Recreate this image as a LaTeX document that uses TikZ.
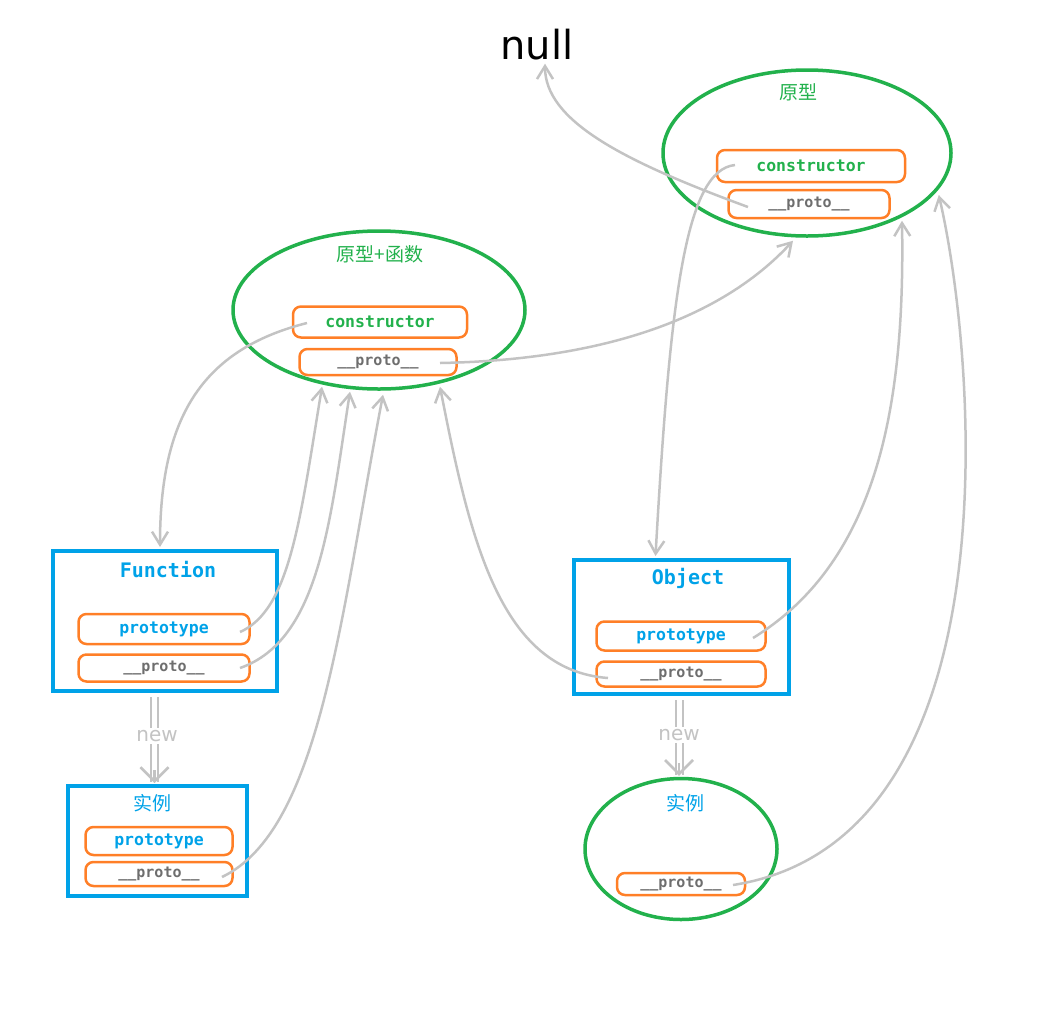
\documentclass[tikz,border=0pt]{standalone}
\usepackage{fontspec}
\usetikzlibrary{shapes.geometric,arrows.meta,calc}
\newfontfamily\cjkf{Noto Sans CJK SC}
\newfontfamily\codef{DejaVu Sans Mono}
\newfontfamily\sansf{DejaVu Sans}
\definecolor{pgreen}{HTML}{22B14C}
\definecolor{pblue}{HTML}{00A2E8}
\definecolor{porange}{HTML}{FF7F27}
\definecolor{pgray}{HTML}{C3C3C3}
\definecolor{pdark}{HTML}{6E6E6E}
\begin{document}
\begin{tikzpicture}[x=1pt,y=-1pt,
  gell/.style={draw=pgreen,line width=3.5pt,ellipse,inner sep=0pt},
  bbox/.style={draw=pblue,line width=4pt,rectangle,inner sep=0pt},
  slot/.style={draw=porange,line width=2.5pt,rounded corners=8pt,inner sep=0pt,font=\codef\bfseries\fontsize{16.5}{18}\selectfont},
  pslot/.style={slot,text=pdark,font=\codef\bfseries\fontsize{15}{17}\selectfont},
  cjklbl/.style={font=\cjkf\fontsize{19}{22}\selectfont,inner sep=0pt},
  codelbl/.style={font=\codef\bfseries\fontsize{20}{22}\selectfont,text=pblue,inner sep=0pt},
  link/.style={draw=pgray,line width=2.5pt,-{Straight Barb[length=13pt,width=16pt]}},
  newln/.style={draw=pgray,line width=2.5pt},
  newtip/.style={draw=pgray,line width=2.5pt,-{Straight Barb[length=14pt,width=28pt]}},
  newlbl/.style={font=\sansf\fontsize{20}{22}\selectfont,text=pgray,fill=white,inner sep=2pt}
]
\useasboundingbox (0,0) rectangle (1054,1034);

% null
\node[font=\sansf\fontsize{40}{44}\selectfont,inner sep=0pt] (null) at (537,45) {null};

% top prototype ellipse
\node[gell,minimum width=288pt,minimum height=166pt] (te) at (807,153) {};
\node[cjklbl,text=pgreen] (tel) at (798,92) {原型};
\node[slot,text=pgreen,minimum width=188pt,minimum height=32pt] (tc) at (811,166) {constructor};
\node[pslot,minimum width=161pt,minimum height=28pt] (tp) at (809,204) {\_\_proto\_\_};

% middle ellipse
\node[gell,minimum width=292pt,minimum height=158pt] (me) at (379,310) {};
\node[cjklbl,text=pgreen] (mel) at (380,254) {原型+函数};
\node[slot,text=pgreen,minimum width=174pt,minimum height=31pt] (mc) at (380,322) {constructor};
\node[pslot,minimum width=157pt,minimum height=26pt] (mp) at (378,362) {\_\_proto\_\_};

% Function box
\node[bbox,minimum width=224pt,minimum height=140pt] (fn) at (165,621) {};
\node[codelbl] (fnl) at (168,570) {Function};
\node[slot,text=pblue,minimum width=171pt,minimum height=30pt] (fp) at (164,629) {prototype};
\node[pslot,minimum width=171pt,minimum height=27pt] (fpp) at (164,668) {\_\_proto\_\_};

% Object box
\node[bbox,minimum width=215pt,minimum height=134pt] (ob) at (681.5,627) {};
\node[codelbl] (obl) at (688,578) {Object};
\node[slot,text=pblue,minimum width=169pt,minimum height=29pt] (op) at (681,636) {prototype};
\node[pslot,minimum width=169pt,minimum height=25pt] (opp) at (681,674) {\_\_proto\_\_};

% Function instance
\node[bbox,minimum width=179pt,minimum height=110pt] (fi) at (157.5,841) {};
\node[cjklbl,text=pblue] (fil) at (152,803) {实例};
\node[slot,text=pblue,minimum width=147pt,minimum height=28pt] (fip) at (159,841) {prototype};
\node[pslot,minimum width=147pt,minimum height=24pt] (fipp) at (159,874) {\_\_proto\_\_};

% Object instance
\node[gell,minimum width=192pt,minimum height=141pt] (oi) at (681,849) {};
\node[cjklbl,text=pblue] (oil) at (685,803) {实例};
\node[pslot,minimum width=128pt,minimum height=22pt] (oipp) at (681,884) {\_\_proto\_\_};

% connectors
\draw[link] ($(tp)+(-61,3)$) .. controls (620,160) and (545,120) .. ($(null.south)+(8,3)$);
\draw[link] ($(tc)+(-76,-1)$) .. controls (685,170) and (670,300) .. ($(ob.north)+(-26,-2)$);
\draw[link] ($(mp)+(62,1)$) .. controls (600,360) and (720,320) .. ($(te.south)+(-14,3)$);
\draw[link] ($(mc)+(-73,1)$) .. controls (200,350) and (160,420) .. ($(fn.north)+(-5,-2)$);
\draw[link] ($(fp)+(76,3)$) .. controls (290,610) and (300,520) .. ($(me.south)+(-57,-4)$);
\draw[link] ($(fpp)+(76,0)$) .. controls (320,640) and (330,520) .. ($(me.south)+(-29,1)$);
\draw[link] ($(fipp)+(63,3)$) .. controls (320,830) and (340,620) .. ($(me.south)+(4,4)$);
\draw[link] ($(opp)+(-73,4)$) .. controls (500,670) and (470,540) .. ($(me.south)+(61,-4)$);
\draw[link] ($(op)+(72,2)$) .. controls (880,560) and (905,400) .. ($(te.south)+(95,-17)$);
\draw[link] ($(oipp)+(52,1)$) .. controls (1020,840) and (975,350) .. ($(te.east)+(-14,42)$);

% new arrows
\draw[newln] ($(fn.south)+(-14,4)$) -- ($(fi.north)+(-6.5,-2)$);
\draw[newln] ($(fn.south)+(-7,4)$) -- ($(fi.north)+(0.5,-2)$);
\draw[newtip] ($(fi.north)+(-3,-14)$) -- ($(fi.north)+(-3,-1)$);
\node[newlbl] (n1) at (157,736) {new};

\draw[newln] ($(ob.south)+(-5.5,4)$) -- ($(oi.north)+(-5,-2)$);
\draw[newln] ($(ob.south)+(1.5,4)$) -- ($(oi.north)+(2,-2)$);
\draw[newtip] ($(oi.north)+(-2,-14)$) -- ($(oi.north)+(-2,-1)$);
\node[newlbl] (n2) at (679,735) {new};
\end{tikzpicture}
\end{document}
